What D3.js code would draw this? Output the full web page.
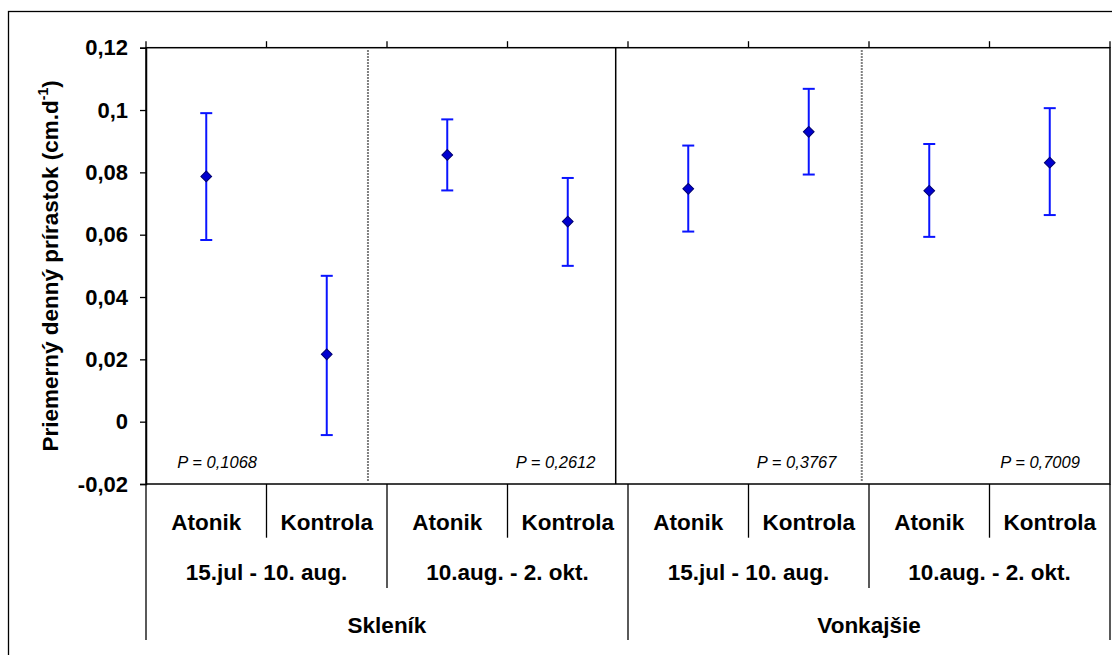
<!DOCTYPE html>
<html>
<head>
<meta charset="utf-8">
<script src="https://cdn.jsdelivr.net/npm/d3@7"></script>
<style>
  html, body { margin: 0; padding: 0; background: #fff; }
  svg { display: block; font-family: "Liberation Sans", Arial, Helvetica, sans-serif; }
</style>
</head>
<body>
<svg id="chart" width="1112" height="655"></svg>
<script>
// Category hierarchy (bottom axis, three levels)
const treatments = ["Atonik", "Kontrola", "Atonik", "Kontrola", "Atonik", "Kontrola", "Atonik", "Kontrola"];
const periods = ["15.jul - 10. aug.", "10.aug. - 2. okt.", "15.jul - 10. aug.", "10.aug. - 2. okt."];
const sites = ["Skleník", "Vonkajšie"];

// Mean daily increment and error bar limits (cm per day)
const means = [0.0787, 0.0216, 0.0856, 0.0642, 0.0747, 0.0930, 0.0741, 0.0831];
const upper = [0.0990, 0.0468, 0.0970, 0.0782, 0.0886, 0.1068, 0.0891, 0.1006];
const lower = [0.0583, -0.0043, 0.0742, 0.0500, 0.0610, 0.0793, 0.0593, 0.0663];

// P-values of each period comparison
const pLabels = ["P = 0,1068", "P = 0,2612", "P = 0,3767", "P = 0,7009"];
const pAnchor = [0.26, 3.73, 5.73, 7.75];           // in category units
const pAlign = ["start", "end", "end", "end"];

// Y axis ticks
const yTicks = [-0.02, 0, 0.02, 0.04, 0.06, 0.08, 0.1, 0.12];

// Group separators drawn inside the plot (category units), dotted between periods
const separators = [
  { at: 1.842, dotted: true },
  { at: 3.898, dotted: false },
  { at: 5.940, dotted: true }
];

const svg = d3.select("#chart");
const plotL = 146, plotR = 1110, plotT = 47.7, plotB = 484;

const x = d3.scaleLinear().domain([0, treatments.length]).range([plotL, plotR]);
const y = d3.scaleLinear().domain([-0.02, 0.12]).range([plotB, plotT]);

const fmt = d3.formatLocale({ decimal: ",", thousands: " ", grouping: [3], currency: ["", ""], minus: "-" }).format("~g");

// Outer frame (extends past the right and bottom edges)
svg.append("rect")
  .attr("x", 8.5).attr("y", 11.5).attr("width", 1200).attr("height", 800)
  .attr("fill", "none").attr("stroke", "#000").attr("stroke-width", 1.3);

// Plot area frame
svg.append("rect")
  .attr("x", plotL).attr("y", plotT).attr("width", plotR - plotL).attr("height", plotB - plotT)
  .attr("fill", "none").attr("stroke", "#000").attr("stroke-width", 1.5);

// Y axis
const yAxis = d3.axisLeft(y).tickValues(yTicks).tickSize(6).tickPadding(12).tickFormat(fmt);
const gy = svg.append("g").attr("transform", `translate(${plotL},0)`).call(yAxis);
gy.select(".domain").attr("stroke-width", 1.5);
gy.selectAll(".tick line").attr("stroke-width", 1.3);
gy.selectAll(".tick text")
  .attr("font-size", 22).attr("font-weight", "bold").attr("fill", "#000")
  .attr("font-family", "'Liberation Sans', Arial, sans-serif");

// Y axis title with superscript
const title = svg.append("text")
  .attr("transform", `translate(58,${(plotT + plotB) / 2}) rotate(-90)`)
  .attr("text-anchor", "middle")
  .attr("font-size", 22.5).attr("font-weight", "bold").attr("fill", "#000");
title.append("tspan").text("Priemerný denný prírastok (cm.d");
title.append("tspan").attr("font-size", 14).attr("dy", -10).text("-1");
title.append("tspan").attr("dy", 10).text(")");

// Top tick marks at category boundaries
const boundaries = d3.range(0, treatments.length + 1);
svg.append("g").selectAll("line").data(boundaries).join("line")
  .attr("x1", d => x(d)).attr("x2", d => x(d))
  .attr("y1", plotT - 6.5).attr("y2", plotT)
  .attr("stroke", "#000").attr("stroke-width", 1.3);

// Separators between groups inside the plot
svg.append("g").selectAll("line").data(separators).join("line")
  .attr("x1", d => x(d.at)).attr("x2", d => x(d.at))
  .attr("y1", d => d.dotted ? plotT + 2.5 : plotT).attr("y2", d => d.dotted ? plotB - 2.5 : plotB)
  .attr("stroke", d => d.dotted ? "#555" : "#000")
  .attr("stroke-width", d => d.dotted ? 2 : 1.5)
  .attr("stroke-dasharray", d => d.dotted ? "1.5,1.5" : null);

// Multi-level category separators below the plot
const levelBottom = [537.7, 588, 640];
const sepLevel = b => (b % 4 === 0 ? 2 : (b % 2 === 0 ? 1 : 0));
svg.append("g").selectAll("line").data(boundaries).join("line")
  .attr("x1", d => x(d)).attr("x2", d => x(d))
  .attr("y1", plotB).attr("y2", d => levelBottom[sepLevel(d)])
  .attr("stroke", "#000").attr("stroke-width", 1.3);

const catText = svg.append("g")
  .attr("font-size", 22.5).attr("font-weight", "bold").attr("fill", "#000").attr("text-anchor", "middle");
catText.selectAll("text.t").data(treatments).join("text").attr("class", "t")
  .attr("x", (d, i) => x(i + 0.5)).attr("y", 530).text(d => d);
catText.selectAll("text.p").data(periods).join("text").attr("class", "p")
  .attr("x", (d, i) => x(i * 2 + 1)).attr("y", 580).text(d => d);
catText.selectAll("text.s").data(sites).join("text").attr("class", "s")
  .attr("x", (d, i) => x(i * 4 + 2)).attr("y", 632.5).text(d => d);

// P-value annotations
svg.append("g").selectAll("text").data(pLabels).join("text")
  .attr("x", (d, i) => x(pAnchor[i])).attr("y", y(-0.015))
  .attr("text-anchor", (d, i) => pAlign[i])
  .attr("font-size", 16.5).attr("font-style", "italic").attr("fill", "#000")
  .text(d => d);

// Error bars
const bars = svg.append("g").attr("stroke", "#0a14ff").attr("stroke-width", 2);
means.forEach((m, i) => {
  const cx = x(i + 0.5);
  bars.append("line").attr("x1", cx).attr("x2", cx).attr("y1", y(upper[i])).attr("y2", y(lower[i]));
  bars.append("line").attr("x1", cx - 6).attr("x2", cx + 6).attr("y1", y(upper[i])).attr("y2", y(upper[i]));
  bars.append("line").attr("x1", cx - 6).attr("x2", cx + 6).attr("y1", y(lower[i])).attr("y2", y(lower[i]));
});

// Mean markers (diamonds)
const diamond = d3.symbol().type(d3.symbolSquare).size(58);
svg.append("g").selectAll("path").data(means).join("path")
  .attr("d", diamond)
  .attr("transform", (d, i) => `translate(${x(i + 0.5)},${y(d)}) rotate(45)`)
  .attr("fill", "#0000d0").attr("stroke", "#000070").attr("stroke-width", 1);
</script>
</body>
</html>
